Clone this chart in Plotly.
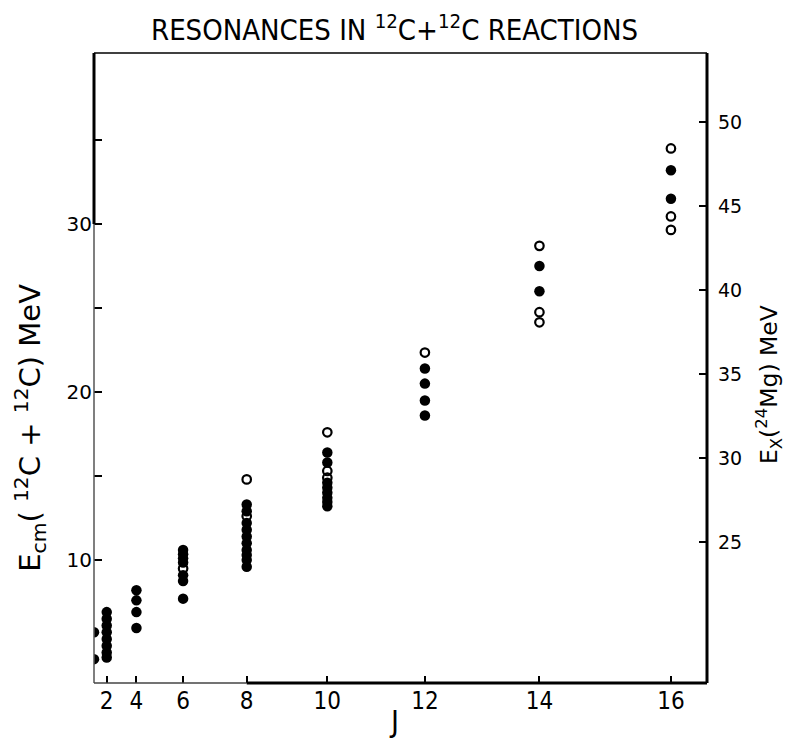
import plotly.graph_objects as go

# Resonance energies (centre-of-mass, MeV) grouped by spin J
closed_J = [0, 0,
            2, 2, 2, 2, 2, 2, 2, 2,
            4, 4, 4, 4,
            6, 6, 6, 6, 6, 6, 6,
            8, 8, 8, 8, 8, 8, 8, 8, 8, 8,
            10, 10, 10, 10, 10, 10, 10, 10,
            12, 12, 12, 12,
            14, 14,
            16, 16]
closed_E = [5.7, 4.1,
            6.9, 6.5, 6.1, 5.7, 5.3, 4.9, 4.5, 4.2,
            8.2, 7.6, 6.9, 5.95,
            10.6, 10.35, 10.1, 9.85, 9.1, 8.75, 7.7,
            13.3, 12.9, 12.2, 11.8, 11.4, 11.0, 10.6, 10.3, 10.0, 9.6,
            16.4, 15.8, 14.6, 14.3, 14.0, 13.7, 13.45, 13.2,
            21.4, 20.5, 19.5, 18.6,
            27.5, 26.0,
            33.2, 31.5]

open_J = [6, 8, 8, 10, 10, 10, 12, 14, 14, 14, 16, 16, 16]
open_E = [9.5, 14.8, 12.6, 17.6, 15.3, 14.9, 22.35, 28.7, 24.75, 24.15, 34.5, 30.45, 29.65]

spin_ticks = [2, 4, 6, 8, 10, 12, 14, 16]
ecm_ticks = [10, 15, 20, 25, 30, 35]
ecm_labels = ["10", "", "20", "", "30", ""]
ex_ticks = [25, 30, 35, 40, 45, 50]

Q_VALUE = 13.93          # Ex(24Mg) = Ecm + Q
ECM_RANGE = [2.68, 40.18]
X_RANGE = [0, 289]       # horizontal scale is J(J+1)

LETTERING = "DejaVu Sans Condensed, Liberation Sans Narrow, sans-serif"
ROUND = "DejaVu Sans, Verdana, sans-serif"


def jj1(j):
    return j * (j + 1)


fig = go.Figure()
fig.add_trace(go.Scatter(
    x=[jj1(j) for j in closed_J], y=closed_E, mode="markers",
    marker=dict(symbol="circle", size=10.5, color="black"),
    showlegend=False, hoverinfo="skip"))
fig.add_trace(go.Scatter(
    x=[jj1(j) for j in open_J], y=open_E, mode="markers",
    marker=dict(symbol="circle-open", size=8.5, color="black", line=dict(width=2.2)),
    showlegend=False, hoverinfo="skip"))
# invisible trace that carries the Ex scale
fig.add_trace(go.Scatter(x=[None], y=[None], yaxis="y2", showlegend=False))

fig.update_layout(
    width=788, height=743,
    margin=dict(l=94, r=81, t=53, b=60),
    paper_bgcolor="white", plot_bgcolor="white",
    xaxis=dict(range=X_RANGE, tickvals=[jj1(j) for j in spin_ticks],
               ticktext=[str(j) for j in spin_ticks],
               ticks="inside", ticklen=7, tickwidth=2, tickcolor="black",
               ticklabelstandoff=1,
               showgrid=False, zeroline=False, showline=False,
               tickfont=dict(family=LETTERING, size=24, color="black")),
    yaxis=dict(range=ECM_RANGE, tickvals=ecm_ticks, ticktext=ecm_labels,
               ticks="inside", ticklen=8, tickwidth=1.5, tickcolor="black",
               ticklabelstandoff=1,
               showgrid=False, zeroline=False, showline=False,
               tickfont=dict(family=ROUND, size=20, color="black")),
    yaxis2=dict(range=[ECM_RANGE[0] + Q_VALUE, ECM_RANGE[1] + Q_VALUE],
                overlaying="y", side="right", tickvals=ex_ticks,
                ticks="inside", ticklen=8, tickwidth=1.5, tickcolor="black",
                ticklabelstandoff=10,
                showgrid=False, zeroline=False, showline=False,
                tickfont=dict(family=ROUND, size=19, color="black")),
)

# frame: thin lower-left portions, heavy upper/right portions
y_break = (30 - ECM_RANGE[0]) / (ECM_RANGE[1] - ECM_RANGE[0])
x_break = (jj1(8) - X_RANGE[0]) / (X_RANGE[1] - X_RANGE[0])
frame = [
    (0, 0, 0, y_break, "#555555", 1.5),
    (0, y_break, 0, 1, "black", 3),
    (0, 0, x_break, 0, "#444444", 1.5),
    (x_break, 0, 1, 0, "black", 3),
    (1, 0, 1, 1, "black", 3),
    (0, 1, 1, 1, "black", 1.5),
]
for x0, y0, x1, y1, col, w in frame:
    fig.add_shape(type="line", xref="paper", yref="paper",
                  x0=x0, y0=y0, x1=x1, y1=y1, line=dict(color=col, width=w))

fig.add_annotation(
    text="RESONANCES IN <sup>12</sup>C+<sup>12</sup>C REACTIONS",
    xref="paper", yref="paper", x=0.5, y=1, yshift=25, xshift=-6,
    showarrow=False, yanchor="middle",
    font=dict(family=LETTERING, size=29, color="black"))
fig.add_annotation(
    text="E<sub>cm</sub>( <sup>12</sup>C + <sup>12</sup>C) MeV",
    xref="paper", yref="paper", x=0, y=0.405, xshift=-64,
    xanchor="center", yanchor="middle",
    textangle=-90, showarrow=False,
    font=dict(family=ROUND, size=29, color="black"))
fig.add_annotation(
    text="E<sub>X</sub>(<sup>24</sup>Mg) MeV",
    xref="paper", yref="paper", x=1, y=0.473, xshift=62,
    xanchor="center", yanchor="middle",
    textangle=-90, showarrow=False,
    font=dict(family=ROUND, size=23.5, color="black"))
fig.add_annotation(
    text="J", xref="paper", yref="paper", x=0.49, y=0, yshift=-38,
    showarrow=False, yanchor="middle",
    font=dict(family=LETTERING, size=30, color="black"))

fig.write_html("out.html")
